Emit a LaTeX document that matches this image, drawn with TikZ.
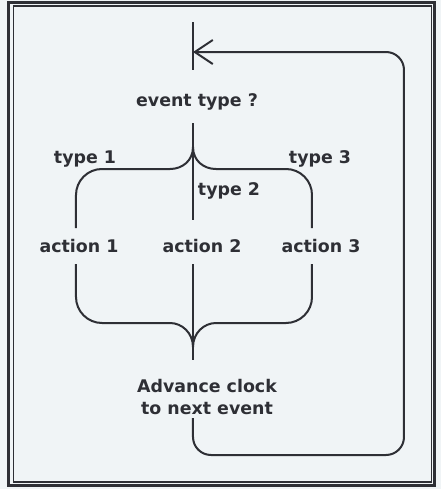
\documentclass[tikz,border=0pt]{standalone}
\usepackage{fontspec}
\setmainfont{DejaVu Sans}
\usetikzlibrary{arrows.meta}

\definecolor{paper}{RGB}{240,244,246}
\definecolor{ink}{RGB}{46,47,53}

\begin{document}
\begin{tikzpicture}[x=0.5pt, y=0.5pt, line width=1pt, color=ink,
    lbl/.style={inner sep=0pt, anchor=base, font=\bfseries\fontsize{8.7}{11}\selectfont},
    loop/.style={rounded corners=9pt, -{Straight Barb[length=9pt,width=12pt]}}]

        % paper and double frame
        \fill[paper] (0,0) rectangle (441,489);
        \draw[line width=1.5pt] (8.5,4) rectangle (435,486.5);
        \draw[line width=0.7pt] (13.5,7) rectangle (431.5,483);

        % texts
        \node[lbl] (ask) at (197,383) {event type ?};
        \node[lbl] (type1) at (85,325.5) {type 1};
        \node[lbl] (type2) at (229,293) {type 2};
        \node[lbl] (type3) at (320,325.5) {type 3};
        \node[lbl] (act1) at (79,236) {action 1};
        \node[lbl] (act2) at (202,236) {action 2};
        \node[lbl] (act3) at (321,236) {action 3};
        \node[lbl, anchor=north, align=center] (adv) at (207,111) {Advance clock\\to next event};

        % junctions and line ends
        \coordinate (entry) at (193,467);
        \coordinate (askin) at (193,419);
        \coordinate (askout) at (193,366);
        \coordinate (split) at (193,342);
        \coordinate (a1in) at (76,261);
        \coordinate (a2in) at (193,269);
        \coordinate (a3in) at (312,261);
        \coordinate (a1out) at (76,225);
        \coordinate (a2out) at (193,225);
        \coordinate (a3out) at (312,225);
        \coordinate (merge) at (193,142);
        \coordinate (advin) at (193,129);
        \coordinate (advout) at (193,71);
        \coordinate (back) at (193,437);

        % decision
        \draw (entry) -- (askin);
        \draw (askout) -- (a2in);
        \draw (split) .. controls (193,328) and (182,320) .. (170,320) -- (102,320)
              arc[start angle=90, end angle=180, radius=26] -- (a1in);
        \draw (split) .. controls (193,328) and (204,320) .. (216,320) -- (286,320)
              arc[start angle=90, end angle=0, radius=26] -- (a3in);

        % join after the actions
        \draw (a2out) -- (advin);
        \draw (a1out) -- (76,192) arc[start angle=180, end angle=270, radius=26]
              -- (170,166) .. controls (182,166) and (193,156) .. (merge);
        \draw (a3out) -- (312,192) arc[start angle=0, end angle=-90, radius=26]
              -- (216,166) .. controls (204,166) and (193,156) .. (merge);

        % back to the next event
        \draw[loop] (advout) -- (193,34) -- (404,34) -- (404,437) -- (back);

\end{tikzpicture}
\end{document}
